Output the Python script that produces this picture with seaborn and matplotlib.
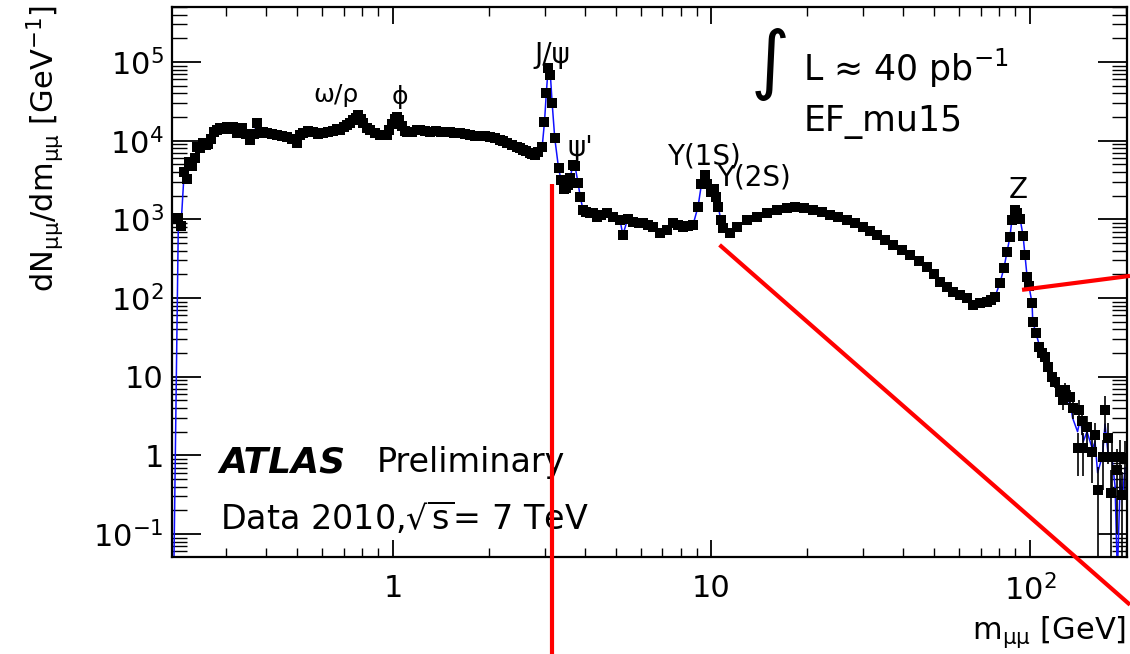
import numpy as np
import pandas as pd
import matplotlib
matplotlib.use("Agg")
import matplotlib.pyplot as plt
import matplotlib.ticker as mticker
import seaborn as sns

# ---------------- data ----------------
mass = [0.212, 0.216, 0.221, 0.225, 0.229, 0.234, 0.239, 0.243, 0.248, 0.253, 0.258, 0.263,
        0.268, 0.274, 0.280, 0.286, 0.293, 0.301, 0.308, 0.315, 0.324, 0.330, 0.336, 0.345,
        0.356, 0.365, 0.374, 0.382, 0.392, 0.402, 0.416, 0.432, 0.448, 0.465, 0.482, 0.500,
        0.511, 0.522, 0.541, 0.561, 0.582, 0.603, 0.625, 0.648, 0.665, 0.682, 0.700, 0.718,
        0.733, 0.749, 0.763, 0.777, 0.791, 0.805, 0.826, 0.847, 0.878, 0.910, 0.934, 0.958,
        0.975, 0.993, 1.012, 1.03, 1.048, 1.067, 1.087, 1.107, 1.15, 1.19, 1.22, 1.26, 1.31,
        1.36, 1.41, 1.46, 1.51, 1.56, 1.62, 1.68, 1.75, 1.81, 1.88, 1.95, 2.02, 2.09, 2.17,
        2.22, 2.28, 2.36, 2.45, 2.50, 2.56, 2.62, 2.69, 2.74, 2.79, 2.86, 2.94, 2.99, 3.03,
        3.07, 3.12, 3.16, 3.22, 3.31, 3.37, 3.44, 3.50, 3.55, 3.60, 3.67, 3.73, 3.81, 3.87,
        3.95, 4.05, 4.16, 4.25, 4.37, 4.5, 4.7, 4.91, 5.16, 5.27, 5.45, 5.68, 5.9, 6.10, 6.3,
        6.55, 6.89, 7.25, 7.57, 7.85, 8.14, 8.45, 8.75, 9.07, 9.3, 9.55, 9.7, 10.0, 10.15,
        10.3, 10.5, 10.7, 10.9, 11.4, 12.0, 12.9, 13.9, 14.9, 16.1, 17.2, 18.3, 19.5, 20.8,
        22.2, 23.6, 25.0, 26.6, 28.2, 29.9, 31.5, 33.1, 35.1, 37.2, 39.5, 42.0, 44.7, 47.5,
        49.8, 52.2, 54.7, 57.3, 60.3, 63.4, 66.2, 69.7, 73.3, 75.5, 77.6, 80.5, 82.8, 84.7,
        86.5, 87.7, 89.7, 91.0, 93.1, 95.1, 96.4, 97.9, 99.3, 101.5]
events = [1050, 820, 4000, 3300, 5400, 4700, 6000, 8300, 8000, 9300, 8800, 9000,
          10500, 12900, 13500, 14500, 14000, 14900, 14200, 14900, 12500, 13500, 14500, 12000,
          10200, 12000, 16800, 12500, 13000, 12500, 12000, 11800, 11400, 11100, 10500, 9400,
          11800, 12500, 13300, 12900, 12000, 12500, 13000, 13300, 14000, 13700, 15000, 15800,
          17000, 18300, 19500, 21200, 19000, 16800, 14500, 13700, 12500, 11800, 11800, 11800,
          13500, 16500, 19000, 20000, 18500, 15500, 13200, 12900, 13000, 13500, 13700, 13200, 12900,
          13100, 12900, 12700, 12900, 12600, 12600, 12000, 11800, 11600, 11500, 11300, 11100, 10700, 10200,
          9800, 9300, 8800, 8300, 8000, 7600, 7300, 7000, 6700, 6600, 7200, 8300, 17300, 40400,
          84000, 68400, 30200, 10800, 4470, 3160, 2430, 2500, 2740, 3360, 4900, 4700, 2930, 1940,
          1330, 1250, 1200, 1200, 1070, 1150, 1200, 1070, 982, 634, 1000, 927, 900, 901, 850,
          803, 673, 735, 901, 850, 803, 830, 851, 1440, 2800, 3650, 2800, 2240, 2400,
          1900, 1440, 980, 780, 673, 803, 982, 1070, 1200, 1320, 1400, 1440, 1380, 1320,
          1230, 1140, 1060, 982, 890, 803, 720, 634, 550, 470, 410, 350, 295, 248,
          200, 161, 138, 120, 110, 101, 82, 86, 90, 95, 104, 155, 240, 385,
          600, 982, 1320, 1200, 1010, 620, 350, 187, 140, 86]

tail_mass = [102.0, 104.4, 106.7, 109.0, 111.4, 113.9, 117.0, 119.9, 124, 127, 129, 134, 136,
             141, 142, 146, 147, 151, 157, 160, 163, 169, 172, 176, 179, 181, 188, 192, 195, 199]
tail_events = [50, 36, 24, 20, 18, 13.3, 10, 8.6, 6.4, 5.1, 6.8, 5.5, 4.0,
               1.24, 3.8, 2.7, 1.24, 2.3, 1.1, 1.8, 0.36, 0.96, 3.8, 1.67, 0.33, 0.96, 0.65, 0.96, 0.31, 0.93]
tail_err = [4, 3, 2.5, 2.2, 2.0, 1.8, 1.6, 1.5, 1.4, 1.3, 1.5, 1.3, 1.1,
            0.7, 1.2, 0.9, 0.7, 0.9, 0.65, 0.8, 0.36, 0.6, 1.8, 0.9, 0.33, 0.6, 0.55, 0.6, 0.31, 0.6]

fit_tail_mass = [102.0, 106.7, 113.9, 119.9, 124, 129, 134, 136, 141, 144, 147, 151, 157, 160,
                 163, 169, 172, 176, 181, 185, 188, 192, 195, 199]
fit_tail_val = [50, 26, 14, 9, 6.0, 5.5, 4.5, 3.0, 2.0, 3.0, 1.5, 2.0, 1.2, 1.5,
                0.6, 1.0, 2.5, 1.0, 0.9, 0.4, 0.03, 0.5, 0.3, 0.7]
fit_start_mass = [0.205]
fit_start_val = [0.03]

peak_labels = ["\u03c9/\u03c1", "\u03d5", "J/\u03c8", "\u03c8'", "\u03a5(1S)", "\u03a5(2S)", "Z"]
peak_label_x = [0.66, 1.05, 3.16, 3.87, 9.47, 13.6, 91.7]
peak_label_y = [38000, 36000, 123000, 8100, 6200, 3360, 2370]

y_tick_values = [0.1, 1, 10, 100, 1e3, 1e4, 1e5]
y_tick_labels = [r"$10^{-1}$", "1", "10", r"$10^{2}$", r"$10^{3}$", r"$10^{4}$", r"$10^{5}$"]
x_tick_values = [1, 10, 100]
x_tick_labels = ["1", "10", r"$10^{2}$"]

# red overlay strokes (drawn on top of the published figure)
red_vertical_x = [3.16, 3.16]
red_vertical_y = [2800, 0.003]
red_diag_x = [10.6, 206]
red_diag_y = [473, 0.0126]
red_short_x = [94.4, 206]
red_short_y = [127, 191]

# ---------------- figure ----------------
sns.set_theme(style="ticks")
plt.rcParams["font.family"] = ["DejaVu Sans"]
plt.rcParams["mathtext.fontset"] = "dejavusans"

W, H = 1130, 654
fig = plt.figure(figsize=(W / 100, H / 100), dpi=100)
fig.patch.set_facecolor("white")
ax = fig.add_axes([172 / W, 1 - 557 / H, (1127 - 172) / W, (557 - 7) / H])
ax.set_facecolor("white")
ax.set_xscale("log")
ax.set_yscale("log", nonpositive="clip")

fit_df = pd.DataFrame({"m": fit_start_mass + mass + fit_tail_mass,
                       "v": fit_start_val + events + fit_tail_val})
sns.lineplot(data=fit_df, x="m", y="v", sort=False, estimator=None, color="#1010ff",
             linewidth=1.1, ax=ax, zorder=2)

all_m = mass + tail_mass
all_v = events + tail_events
ax.errorbar(tail_mass, tail_events, yerr=tail_err, fmt="none", ecolor="black",
            elinewidth=1.2, zorder=3)
pts = pd.DataFrame({"m": all_m, "v": all_v})
sns.scatterplot(data=pts, x="m", y="v", marker="s", color="black", s=44,
                linewidth=0, ax=ax, zorder=4)

ax.set_xlim(0.2024, 201.6)
ax.set_ylim(0.051, 5.0e5)

ax.yaxis.set_major_locator(mticker.FixedLocator(y_tick_values))
ax.yaxis.set_major_formatter(mticker.FixedFormatter(y_tick_labels))
ax.yaxis.set_minor_locator(mticker.LogLocator(base=10, subs=np.arange(2, 10), numticks=20))
ax.yaxis.set_minor_formatter(mticker.NullFormatter())
ax.xaxis.set_major_locator(mticker.FixedLocator(x_tick_values))
ax.xaxis.set_major_formatter(mticker.FixedFormatter(x_tick_labels))
ax.xaxis.set_minor_locator(mticker.LogLocator(base=10, subs=np.arange(2, 10), numticks=20))
ax.xaxis.set_minor_formatter(mticker.NullFormatter())

ax.tick_params(which="both", direction="in", top=True, right=True, color="black",
               labelsize=22, labelcolor="black")
ax.tick_params(axis="y", which="major", length=21, width=1.3, pad=6)
ax.tick_params(axis="y", which="minor", length=11, width=1.0)
ax.tick_params(axis="x", which="major", length=12.5, width=1.3, pad=12)
ax.tick_params(axis="x", which="minor", length=6.5, width=1.0)
for s in ax.spines.values():
    s.set_visible(True)
    s.set_color("black")
    s.set_linewidth(1.6)
ax.set_xlabel("")
ax.set_ylabel("")

# axis titles
fig.text(45 / W, 1 - 5 / H, r"dN$_{\mathrm{\mu\mu}}$/dm$_{\mathrm{\mu\mu}}$ [GeV$^{\mathrm{-1}}$]",
         rotation=90, ha="center", va="top", fontsize=22, color="black")
fig.text(1126 / W, 1 - 632 / H, r"m$_{\mathrm{\mu\mu}}$ [GeV]", ha="right", va="center",
         fontsize=22, color="black")

# peak labels
peak_sizes = [18, 18, 20, 20, 20, 20, 20]
for lab, lx, ly, fs in zip(peak_labels, peak_label_x, peak_label_y, peak_sizes):
    ax.text(lx, ly, lab, ha="center", va="center", fontsize=fs, color="black", zorder=5)

# in-plot texts
ax.text(0.050, 0.171, "ATLAS", transform=ax.transAxes, fontsize=26, fontweight="bold",
        fontstyle="italic", ha="left", va="center", color="black")
ax.text(0.214, 0.171, "Preliminary", transform=ax.transAxes, fontsize=24,
        ha="left", va="center", color="black")
ax.text(0.050, 0.071, r"Data 2010,$\sqrt{\mathrm{s}}$= 7 TeV", transform=ax.transAxes,
        fontsize=24, ha="left", va="center", color="black")
ax.text(0.626, 0.895, "\u222b", transform=ax.transAxes, fontsize=54, ha="center",
        va="center", color="black")
ax.text(0.661, 0.889, "L \u2248 40 pb$^{\\mathrm{-1}}$", transform=ax.transAxes,
        fontsize=25, ha="left", va="center", color="black")
ax.text(0.661, 0.791, "EF_mu15", transform=ax.transAxes, fontsize=25,
        ha="left", va="center", color="black")

# red overlay strokes
for xs, ys in [(red_vertical_x, red_vertical_y), (red_diag_x, red_diag_y),
               (red_short_x, red_short_y)]:
    ax.plot(xs, ys, color="#ff0000", linewidth=3.0, clip_on=False, zorder=6,
            solid_capstyle="butt")

fig.savefig("out.png", dpi=100, facecolor="white")
